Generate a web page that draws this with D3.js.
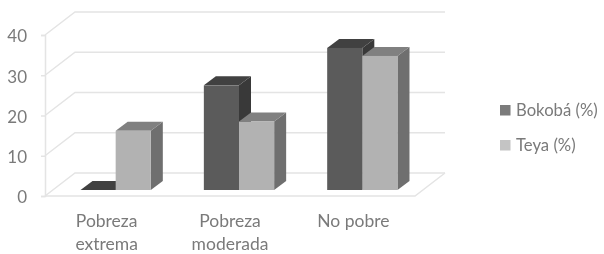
<!DOCTYPE html>
<html>
<head>
<meta charset="utf-8">
<script src="https://d3js.org/d3.v7.min.js"></script>
<style>
  html, body { margin: 0; padding: 0; background: #fff; }
  svg { display: block; filter: blur(0.4px); } /* reference is a soft scan */
  text { font-family: Lato, "Open Sans", sans-serif; fill: #7a7a7a; }
</style>
</head>
<body>
<svg id="chart" width="604" height="254"></svg>
<script>
  // values
  var categories = ["Pobreza extrema", "Pobreza moderada", "No pobre"];
  var categoryLines = [["Pobreza", "extrema"], ["Pobreza", "moderada"], ["No pobre"]];
  var seriesNames = ["Bokobá (%)", "Teya (%)"];
  var bokoba = [0, 26, 35.3];
  var teya = [14.7, 17, 33.3];
  var yTicks = [0, 10, 20, 30, 40];

  var seriesValues = [bokoba, teya];
  var barColors = [
    {front: "#5b5b5b", top: "#414141", side: "#393939"},
    {front: "#b2b2b2", top: "#808080", side: "#6f6f6f"}
  ];
  var legendColors = ["#7b7b7b", "#c4c4c4"];
  var gridColor = "#e4e4e4";

  var svg = d3.select("#chart");

  // front plane of the floor, the back wall sits up and to the right of it
  var x = d3.scaleBand().domain(categories).range([45, 415]).paddingInner(0.43).paddingOuter(0.215);
  var xSeries = d3.scaleBand().domain(seriesNames).range([0, x.bandwidth()]);
  var y = d3.scaleLinear().domain([0, 40]).range([196, 35]);
  var wall = {dx: 30, dy: -23};     // front edge to back wall
  var barShift = {dx: 9, dy: -6};   // bars stand a little behind the front edge
  var depth = {dx: 12, dy: -9};     // depth of a bar

  // gridlines, back wall + left wall
  yTicks.forEach(function(t) {
    svg.append("polyline")
      .attr("points", [[x.range()[0], y(t)], [x.range()[0] + wall.dx, y(t) + wall.dy], [x.range()[1] + wall.dx, y(t) + wall.dy]].join(" "))
      .attr("fill", "none")
      .attr("stroke", gridColor)
      .attr("stroke-width", 1.5);
  });

  // floor front edge and right edge
  svg.append("polyline")
    .attr("points", [[x.range()[0], y(0)], [x.range()[1], y(0)], [x.range()[1] + wall.dx, y(0) + wall.dy]].join(" "))
    .attr("fill", "none")
    .attr("stroke", gridColor)
    .attr("stroke-width", 1.5);

  // y axis
  var yAxis = svg.append("g")
    .attr("transform", "translate(45,0)")
    .call(d3.axisLeft(y).tickValues(yTicks).tickSize(4).tickPadding(14));
  yAxis.selectAll("path, line").attr("stroke", gridColor).attr("stroke-width", 1.5);
  yAxis.selectAll("text")
    .attr("dy", "0.4em")
    .style("font-size", "17px")
    .style("font-family", "Lato, sans-serif")
    .attr("fill", "#7a7a7a");

  // bars
  categories.forEach(function(cat, i) {
    seriesNames.forEach(function(name, s) {
      var val = seriesValues[s][i];
      var c = barColors[s];
      var x0 = x(cat) + xSeries(name) + barShift.dx;
      var x1 = x0 + xSeries.bandwidth();
      var yTop = y(val) + barShift.dy;
      var yBase = y(0) + barShift.dy;
      var g = svg.append("g");

      g.append("polygon") // side
        .attr("points", [[x1, yTop], [x1 + depth.dx, yTop + depth.dy], [x1 + depth.dx, yBase + depth.dy], [x1, yBase]].join(" "))
        .attr("fill", c.side);
      g.append("polygon") // top
        .attr("points", [[x0, yTop], [x0 + depth.dx, yTop + depth.dy], [x1 + depth.dx, yTop + depth.dy], [x1, yTop]].join(" "))
        .attr("fill", c.top);
      g.append("rect") // front
        .attr("x", x0)
        .attr("y", yTop)
        .attr("width", x1 - x0)
        .attr("height", yBase - yTop)
        .attr("fill", c.front);
    });
  });

  // category labels
  categories.forEach(function(cat, i) {
    var t = svg.append("text")
      .attr("x", x(cat) + x.bandwidth() / 2)
      .attr("y", 227)
      .attr("text-anchor", "middle")
      .style("font-size", "17.5px");
    categoryLines[i].forEach(function(line, j) {
      t.append("tspan")
        .attr("x", x(cat) + x.bandwidth() / 2)
        .attr("dy", j == 0 ? 0 : 22.5)
        .text(line);
    });
  });

  // legend
  seriesNames.forEach(function(name, s) {
    svg.append("rect")
      .attr("x", 500)
      .attr("y", 105 + s * 35)
      .attr("width", 10.5)
      .attr("height", 10.5)
      .attr("fill", legendColors[s]);
    svg.append("text")
      .attr("x", 516)
      .attr("y", 115.5 + s * 35)
      .style("font-size", "16.7px")
      .text(name);
  });
</script>
</body>
</html>
